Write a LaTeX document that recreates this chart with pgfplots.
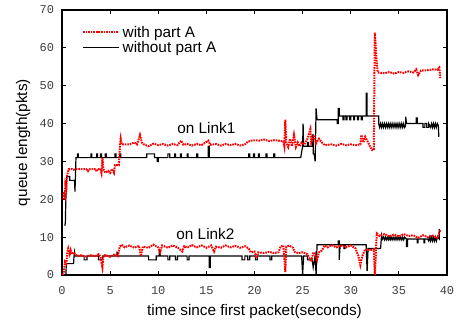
\documentclass[border=0pt]{standalone}
\usepackage{pgfplots}
\pgfplotsset{compat=1.18}
\usepackage{fontspec}
\setmainfont{Liberation Sans}
\setmonofont{Liberation Mono}
\begin{document}
\begin{tikzpicture}
\begin{axis}[
 scale only axis, width=288.75pt, height=198.75pt,
 xmin=0, xmax=40, ymin=0, ymax=70,
 xtick={0,5,...,40}, ytick={0,10,...,70},
 tick align=inside, major tick length=3pt,
 axis line style={line width=0.8pt},
 tick style={line width=0.6pt, black},
 /pgf/number format/assume math mode=true,
 ticklabel style={font=\fontsize{9}{10}\selectfont\ttfamily, text=black!75},
 xticklabel style={yshift=-5pt},
 yticklabel style={xshift=-2.5pt},
 label style={font=\fontsize{11.5}{13}\selectfont},
 xlabel={time since first packet(seconds)},
 ylabel={queue length(pkts)},
 xlabel style={at={(axis description cs:0.5,-0.1385)}, anchor=center},
 ylabel style={at={(axis description cs:-0.101,0.5)}, anchor=center},
 legend style={at={(axis description cs:0.052,0.945)}, anchor=north west, draw=none, fill=none,
   font=\fontsize{11.5}{13}\selectfont, inner sep=0pt, row sep=0pt, nodes={inner sep=0.8pt}, cells={anchor=west},
   /tikz/every odd column/.append style={column sep=1.5pt}},
 legend image code/.code={\draw[#1] (0pt,0pt) -- (26.5pt,0pt);},
 reverse legend,
]
\coordinate (O) at (rel axis cs:0,0);
% black, link2
\addplot[black, line width=0.9pt, forget plot] coordinates {
(0.3,0)(0.4,0)(0.45,3)(1.2,3)(1.25,5)(1.3,6)(1.35,5)(2.3,5)(2.3,4)(2.6,4)(2.6,5)
(3.8,5)(3.8,4)(4.2,4)(4.2,5)(5.7,5)(5.7,6)(5.8,6)(5.8,5)(9.0,5)(9.0,4)(9.8,4)(9.8,5)
(10.1,5)(10.1,6.5)(10.2,6.5)(10.2,5)(11.0,5)(11.0,4)(11.2,4)(11.2,5)(11.8,5)(11.8,4)(12.0,4)(12.0,5)
(13.0,5)(13.0,4)(13.2,4)(13.2,5)(15.3,5)(15.3,2)(15.4,2)(15.4,5)(18.7,5)(18.7,4)(19.0,4)(19.0,5)
(19.3,5)(19.3,4)(19.5,4)(19.5,5)(20.1,5)(20.1,4)(20.3,4)(20.3,5)(21.6,5)(21.6,4)(21.8,4)(21.8,5)
(24.9,5)(25.0,0)(25.1,5)(25.5,5)(25.5,4)(26.0,4)(26.1,2)(26.3,5)(26.4,0)(26.5,8)
(28.7,8)(28.7,9)(28.8,9)(28.8,4)(28.9,8)(29.3,8)(29.3,7)(29.4,7)(29.4,8)(31.6,8)(31.7,1)(31.8,7)(33.1,7)
(33.2,10.5)(33.3,9.5)(33.4,10)(33.5,9.3)(33.6,10)(33.7,9.3)(33.8,10)(33.9,9.3)(34.0,10)(34.1,9.3)(34.2,10)
(34.3,9.3)(34.4,10)(34.5,9.3)(34.6,10)(34.7,9.3)(34.8,10)(34.9,9.3)(35.0,10)(35.1,9.3)(35.2,10)(35.3,9.3)
(35.4,10)(35.5,9.3)(35.6,10)(35.8,9.5)(35.8,7.5)(35.9,7.5)(35.9,9.5)(36.9,9.5)(36.9,8.5)(37.0,8.5)(37.0,9.5)
(37.6,9.5)(37.6,8.5)(37.7,8.5)(37.7,9.5)(38.0,9.5)(38.1,9)(38.2,10)(38.3,9)(38.4,10)(38.5,9)(38.6,10)
(38.7,9)(38.8,10)(38.9,9)(39.0,10)(39.2,9.5)(39.2,12.2)
};
% black, link1
\addplot[black, line width=0.9pt] coordinates {
(0.3,13)(0.35,14)(0.4,20)(0.5,26)(0.8,26)(0.8,25)(1.3,25)(1.35,22)(1.45,31)(1.6,31)(1.6,32)(1.7,32)(1.7,31)
(3.0,31)(3.0,32)(3.1,32)(3.1,31)(3.6,31)(3.6,32)(3.7,32)(3.7,31)(4.0,31)(4.0,32)(4.1,32)(4.1,31)
(4.5,31)(4.5,32)(4.6,32)(4.6,31)(5.5,31)(5.5,32)(5.6,32)(5.6,31)(6.0,31)(6.0,32)(6.1,32)(6.1,31)
(8.8,31)(8.8,32)(9.6,32)(9.6,31)(9.9,31)(9.9,30)(10.0,30)(10.0,31)(11.0,31)(11.0,32)(11.2,32)(11.2,31)
(11.7,31)(11.7,32)(11.8,32)(11.8,31)(12.3,31)(12.3,32)(12.4,32)(12.4,31)(13.0,31)(13.0,32)(13.1,32)(13.1,31)
(14.0,31)(14.0,32)(14.1,32)(14.1,31)(15.2,31)(15.2,34)(15.3,34)(15.3,31)(19.4,31)(19.4,32)(19.5,32)(19.5,31)
(19.9,31)(19.9,32)(20.0,32)(20.0,31)(20.4,31)(20.4,32)(20.5,32)(20.5,31)(21.2,31)(21.2,32)(21.3,32)(21.3,31)
(22.0,31)(22.0,32)(22.1,32)(22.1,31)(24.8,31)(25.0,34)(25.05,40)(25.1,34)(25.5,34)(25.5,35)(25.6,35)(25.6,34)
(26.0,34)(26.0,37)(26.1,37)(26.1,32)(26.2,32)(26.3,30)(26.4,44)(26.5,41)(28.6,41)(28.6,40)(28.7,40)(28.7,44)
(28.8,44)(28.8,42)(29.2,42)(29.2,41)(29.3,41)(29.3,42)(29.5,42)(29.5,41)(29.6,41)(29.6,42)(29.9,42)(29.9,41)
(30.0,41)(30.0,42)(30.3,42)(30.3,41)(30.4,41)(30.4,42)(30.7,42)(30.7,41)(30.8,41)(30.8,42)(31.1,42)(31.1,41)
(31.2,41)(31.2,42)(31.6,42)(31.6,48)(31.7,48)(31.7,42)(32.9,42)(32.9,40)(33.0,39)
(33.1,40)(33.2,39)(33.3,40)(33.4,39)(33.5,40)(33.6,39)(33.7,40)(33.8,39)(33.9,40)(34.0,39)(34.1,40)(34.2,39)
(34.3,40)(34.4,39)(34.5,40)(34.6,39)(34.7,40)(34.8,39)(34.9,40)(35.0,39)(35.1,40)(35.2,39)(35.3,40)(35.4,39)
(35.5,40)(35.6,39)(35.7,39.5)(35.7,41.8)(35.8,40)(36.8,40)(36.8,41.5)(36.9,41.5)(36.9,40)(37.5,40)(37.5,39)
(37.7,39)(37.7,40)(37.9,40)(37.9,39)(38.1,39)(38.1,40)(38.3,39)(38.4,40)(38.5,39)(38.6,40)(38.7,39)(38.8,40)
(38.9,39)(39.0,40)(39.1,39.5)(39.15,36.5)
};
\addlegendentry{without part A}
% red, link1
\addplot[red, line width=1.5pt, dash pattern=on 1.2pt off 0.7pt] coordinates {
(0.15,20)(0.2,22)(0.3,21)(0.35,24)(0.45,23)(0.5,26)(0.6,27)(0.7,28)(1.0,28)(1.2,27.8)(1.5,28)(2.0,28)(2.5,28)
(2.7,27.5)(2.8,28)(3.5,28)(3.6,27.3)(3.7,28)(4.0,28)(4.1,27)(4.2,31)(4.3,28)(4.5,27)(4.8,27.5)(5.0,27)(5.2,28)
(5.4,27)(5.5,29)(5.9,29)(6.0,33)(6.05,35)(6.1,36)(6.2,34.5)(7.0,34.5)(7.5,35)(7.8,34.5)(8.1,37)(8.3,35)(8.5,34.5)
(9.0,34)(9.5,34.7)(10,34.3)(10.5,34.6)(11,34.2)(11.5,34.6)(12,34.3)(12.4,35.5)(12.6,34.4)(13,34.6)(13.5,34.2)
(14,34.6)(14.5,34.3)(15.2,35.5)(15.4,34.4)(16,34.6)(16.5,34.2)(17,34.6)(17.5,34.3)(18,34.6)(18.5,34.2)(19,34.5)
(19.3,35.2)(19.8,35.6)(20.5,35.5)(21,35.8)(21.5,35.4)(22,35.6)(22.5,35.5)(23.0,35.3)(23.1,34)(23.2,41)(23.3,35)
(23.5,33.8)(23.7,36)(23.9,34)(24.1,37)(24.3,33.8)(24.5,35)(24.7,34)(24.9,35)(25.2,34.5)(25.5,36)(25.8,38.5)
(25.9,35)(26.2,37)(26.4,34.8)(26.7,36)(27.0,35)(27.3,34.3)(28,34.5)(28.5,34.2)(29,34.6)(29.5,34.3)(30,34.5)
(30.5,34.3)(31.0,34.5)(31.1,37)(31.3,35)(31.5,36.5)(31.8,35)(32.0,34)(32.2,33)(32.4,33)(32.45,50)(32.5,64)
(32.6,60)(32.7,56)(32.8,53.5)(33.5,53.3)(34,53.6)(34.5,53.2)(35,53.6)(35.5,53.4)(36,53.8)(36.5,53.5)(36.8,54.3)
(37.0,52.8)(37.3,54)(38,54.1)(38.5,54.3)(39,54.2)(39.2,54.8)(39.3,52)
};
\addlegendentry{with part A}
% red, link2
\addplot[red, line width=1.5pt, dash pattern=on 1.2pt off 0.7pt, forget plot] coordinates {
(0.1,0)(0.2,1)(0.3,3.5)(0.45,3)(0.55,6)(0.65,7)(0.8,5.5)(0.9,6.5)(1.0,5.5)(1.2,6)(1.4,5.5)(1.6,5)(2.0,5.2)
(2.5,4.9)(3.0,5.2)(3.5,5)(3.8,5.5)(4.0,4.8)(4.2,2)(4.3,5)(4.5,5.3)(5.0,4.8)(5.5,5.5)(5.8,5)(6.0,7.5)(6.2,8)
(6.5,7.3)(7.0,7.8)(7.5,7.2)(8.0,7.7)(8.2,5)(8.4,7.5)(9.0,7.2)(9.5,8)(10.0,7.3)(10.2,6)(10.4,7.8)(11,7.2)
(11.5,7.8)(12,7.3)(12.5,6.2)(12.7,7.6)(13,7.2)(13.5,7.9)(14,7.3)(14.5,7.8)(15,7.2)(15.5,7.8)(15.8,6.2)(16,7.5)
(16.5,7.2)(17,7.8)(17.5,7.3)(18,7.7)(18.5,7.2)(19,7.6)(19.4,7.0)(19.6,6)(20.0,6.2)(20.2,4.5)(20.4,6)(21,5.8)
(21.5,6.1)(22,5.8)(22.5,6)(22.7,7.5)(23.0,7.8)(23.2,0.8)(23.3,7.5)(23.6,7.8)(24,7.2)(24.2,6)(24.6,5.8)(25,6)
(25.5,5.5)(25.9,3.5)(26.1,6)(26.4,5)(26.5,4)(26.7,6)(27.0,6.5)(27.3,7.8)(27.6,7.3)(28,7.9)(28.5,7.3)(29,7.8)
(29.5,7.3)(30,7.8)(30.5,7)(30.8,5)(31.0,2.6)(31.2,5)(31.5,6.8)(32.0,6.5)(32.4,6.8)(32.5,0)(32.6,5)(32.7,11)
(33,10.3)(33.5,10.8)(34,10.2)(34.5,10.7)(35,10.2)(35.5,10.8)(36,10.3)(36.5,10.5)(37,9.8)(37.5,10.5)(38,10)
(38.5,10.4)(39,9.8)(39.3,11.9)
};
\node[font=\fontsize{11.5}{13}\selectfont] at (axis cs:15.0,38.8) {on Link1};
\node[font=\fontsize{11.5}{13}\selectfont] at (axis cs:14.9,10.8) {on Link2};
\end{axis}
\pgfresetboundingbox
\path[use as bounding box] (O) ++(-46.5pt,-36.75pt) rectangle ++(347.25pt,243pt);
\end{tikzpicture}
\end{document}
